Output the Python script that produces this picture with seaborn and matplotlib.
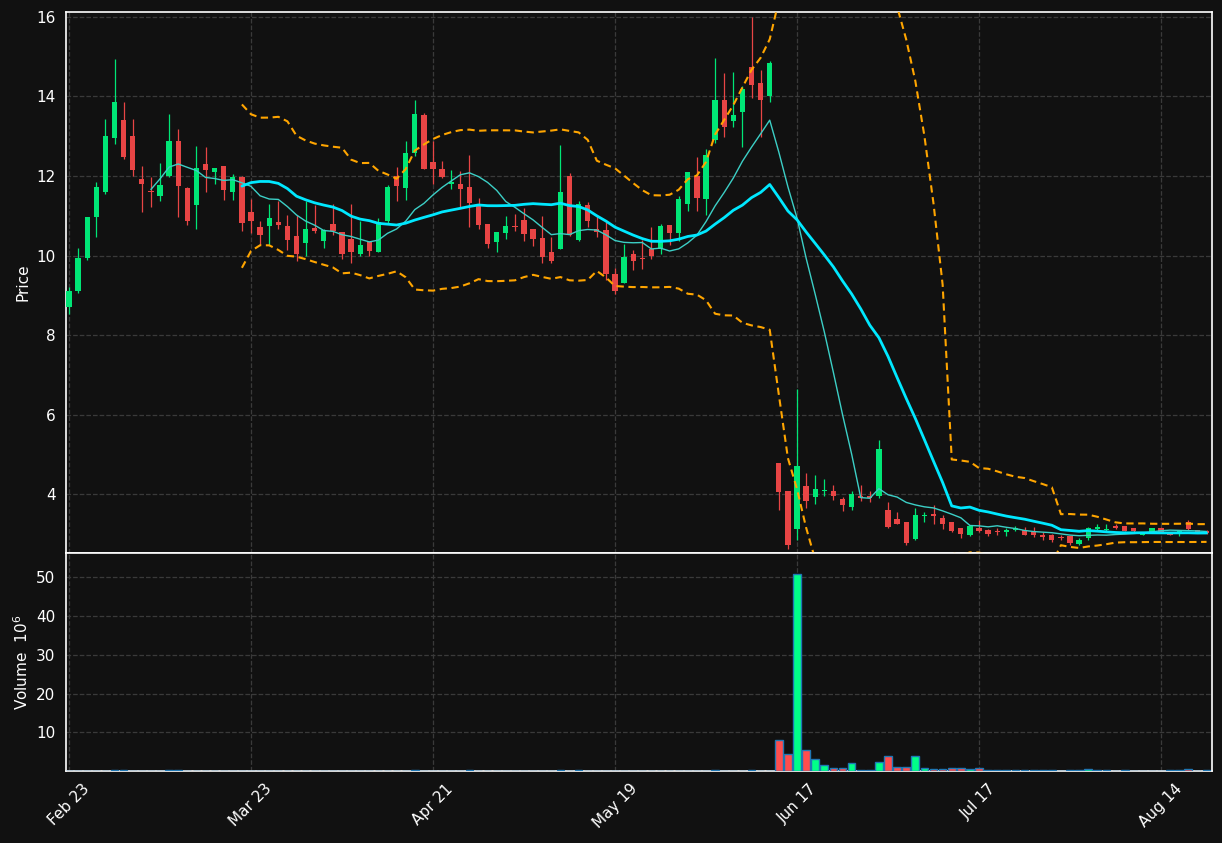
import numpy as np
import pandas as pd
import matplotlib
matplotlib.use("Agg")
import matplotlib.pyplot as plt
import seaborn as sns

# ---------------- data ----------------
opens = [8.72, 9.12, 9.93, 10.98, 11.59, 12.95, 13.40, 13.00, 11.93, 11.63,
         11.51, 11.99, 12.89, 11.70, 11.28, 12.31, 12.11, 12.24, 11.59, 11.98,
         11.10, 10.72, 10.75, 10.84, 10.74, 10.49, 10.31, 10.69, 10.36, 10.79,
         10.59, 10.41, 10.03, 10.35, 10.08, 10.87, 11.99, 11.71, 12.57, 13.53,
         12.36, 12.18, 11.79, 11.81, 11.73, 11.27, 10.79, 10.35, 10.57, 10.75,
         10.89, 10.67, 10.44, 10.08, 10.17, 12.01, 10.39, 11.27, 10.67, 10.64,
         9.55, 9.31, 10.04, 9.95, 10.16, 10.17, 10.76, 10.57, 11.30, 12.00,
         11.42, 12.91, 13.92, 13.37, 13.60, 14.75, 14.34, 14.00, 4.79, 4.08,
         3.13, 4.21, 3.94, 4.08, 4.08, 3.88, 3.69, 3.96, 3.96, 3.97,
         3.61, 3.38, 3.31, 2.89, 3.47, 3.51, 3.41, 3.31, 3.15, 2.98,
         3.16, 3.12, 3.08, 3.05, 3.10, 3.10, 3.06, 2.98, 2.99, 2.92,
         2.95, 2.75, 2.90, 3.13, 3.10, 3.21, 3.20, 3.15, 2.99, 3.07,
         3.15, 3.06, 3.00, 3.32, 3.11, 3.08]
highs = [9.22, 10.20, 10.98, 11.85, 13.42, 14.94, 13.85, 13.42, 12.25, 11.97,
         12.33, 13.57, 13.19, 11.72, 12.76, 12.73, 12.21, 12.26, 12.05, 12.00,
         11.41, 10.86, 11.29, 11.38, 11.01, 11.01, 11.38, 11.27, 10.66, 11.29,
         10.60, 11.29, 10.86, 10.36, 10.94, 11.77, 12.23, 12.89, 13.90, 13.59,
         12.89, 12.38, 12.16, 12.13, 12.53, 11.44, 10.80, 10.60, 11.00, 11.04,
         11.19, 10.68, 11.00, 10.46, 12.78, 12.08, 11.38, 11.34, 10.99, 10.85,
         9.70, 10.28, 10.15, 10.40, 10.71, 10.79, 10.77, 11.50, 12.10, 12.47,
         12.67, 14.97, 14.59, 14.61, 14.25, 16.00, 14.66, 14.89, 4.80, 4.10,
         6.64, 4.54, 4.48, 4.38, 4.23, 3.93, 4.08, 4.23, 4.08, 5.38,
         3.80, 3.57, 3.32, 3.65, 3.56, 3.74, 3.48, 3.32, 3.16, 3.20,
         3.36, 3.13, 3.15, 3.17, 3.20, 3.19, 3.19, 3.06, 3.00, 2.98,
         2.96, 2.90, 3.18, 3.25, 3.27, 3.25, 3.21, 3.16, 3.05, 3.17,
         3.18, 3.07, 3.10, 3.35, 3.12, 3.10]
lows = [8.53, 9.05, 9.88, 10.47, 11.55, 12.80, 12.43, 11.99, 11.10, 11.21,
        11.36, 11.97, 10.98, 10.78, 10.68, 11.60, 11.80, 11.39, 11.40, 10.63,
        10.57, 10.26, 10.26, 10.66, 10.15, 9.87, 9.98, 10.58, 10.20, 10.52,
        9.92, 9.81, 9.98, 9.98, 10.08, 10.81, 11.38, 11.39, 12.51, 12.17,
        11.79, 11.94, 11.67, 11.23, 10.73, 10.67, 10.20, 10.10, 10.43, 10.62,
        10.37, 10.25, 9.81, 9.81, 10.17, 10.50, 10.36, 10.72, 10.46, 9.38,
        9.04, 9.31, 9.65, 9.66, 9.92, 10.05, 10.27, 10.37, 11.13, 11.13,
        11.03, 12.82, 12.99, 13.24, 12.74, 13.97, 12.97, 13.86, 3.60, 2.64,
        2.85, 3.65, 3.75, 3.95, 3.87, 3.58, 3.62, 3.84, 3.80, 3.90,
        3.16, 3.25, 2.74, 2.86, 3.30, 3.25, 3.13, 3.06, 2.90, 2.95,
        3.05, 2.96, 2.98, 2.95, 3.09, 2.98, 2.94, 2.85, 2.80, 2.85,
        2.74, 2.74, 2.85, 3.08, 3.06, 3.13, 3.08, 3.05, 2.98, 3.05,
        3.05, 2.98, 2.95, 3.10, 3.03, 3.00]
closes = [9.12, 9.93, 10.97, 11.73, 13.00, 13.86, 12.47, 12.14, 11.79, 11.61,
          11.78, 12.89, 11.76, 10.88, 12.19, 12.14, 12.19, 11.66, 11.98, 10.83,
          10.88, 10.52, 10.95, 10.78, 10.39, 10.03, 10.66, 10.62, 10.65, 10.62,
          10.03, 10.08, 10.26, 10.11, 10.84, 11.73, 11.76, 12.59, 13.55, 12.17,
          12.17, 11.97, 11.86, 11.67, 11.33, 10.78, 10.30, 10.59, 10.74, 10.73,
          10.55, 10.42, 9.97, 9.86, 11.60, 10.52, 11.30, 10.88, 10.59, 9.53,
          9.12, 9.96, 9.87, 9.92, 9.98, 10.74, 10.57, 11.42, 12.10, 11.45,
          12.54, 13.92, 13.24, 13.54, 14.19, 14.28, 13.92, 14.85, 4.07, 2.73,
          4.71, 3.84, 4.13, 4.11, 3.97, 3.74, 4.00, 3.92, 3.90, 5.14,
          3.18, 3.26, 2.79, 3.48, 3.49, 3.46, 3.26, 3.09, 3.00, 3.20,
          3.09, 3.01, 3.06, 3.10, 3.17, 2.99, 2.98, 2.94, 2.86, 2.90,
          2.79, 2.85, 3.15, 3.19, 3.13, 3.15, 3.09, 3.08, 3.04, 3.15,
          3.07, 2.99, 3.09, 3.13, 3.05, 3.02]
volumes = [0, 0, 0, 0, 0, 0.3, 0.3, 0, 0, 0,
           0, 0.3, 0.3, 0, 0, 0, 0, 0, 0, 0,
           0, 0, 0, 0, 0, 0, 0, 0, 0, 0,
           0, 0, 0, 0, 0, 0, 0, 0, 0.3, 0,
           0, 0, 0, 0, 0.3, 0, 0, 0, 0, 0,
           0, 0, 0, 0, 0.3, 0, 0.3, 0, 0, 0,
           0, 0, 0, 0, 0, 0, 0, 0, 0, 0,
           0, 0.3, 0, 0, 0, 0.3, 0, 0, 8.1, 4.5,
           51.0, 5.3, 3.0, 1.45, 0.65, 0.65, 2.0, 0.3, 0.3, 2.2,
           4.0, 1.05, 1.05, 4.0, 0.9, 0.45, 0.45, 0.65, 0.65, 0.45,
           0.65, 0.3, 0.3, 0.3, 0.3, 0.3, 0.3, 0.3, 0.3, 0,
           0.3, 0.3, 0.45, 0.3, 0.3, 0, 0.3, 0, 0, 0,
           0, 0.3, 0.3, 0.45, 0, 0.3]   # millions
tick_labels = ["Feb 23", "Mar 23", "Apr 21", "May 19", "Jun 17", "Jul 17", "Aug 14"]
tick_step = 20

# ---------------- style ----------------
BG = "#111111"
UP, DOWN = "#00e676", "#e84545"
VUP, VDOWN = "#00ff88", "#ff4d4d"

sns.set_theme(style="darkgrid")
plt.rcParams.update({
    "font.family": ["DejaVu Sans"],
    "figure.facecolor": BG,
    "axes.facecolor": BG,
    "axes.edgecolor": "white",
    "axes.labelcolor": "white",
    "xtick.color": "white",
    "ytick.color": "white",
    "text.color": "white",
    "font.size": 10,
    "axes.grid": True,
    "grid.color": "#3a3a3a",
    "grid.linestyle": "--",
    "grid.linewidth": 0.9,
})

df = pd.DataFrame({"open": opens, "high": highs, "low": lows,
                   "close": closes, "volume": volumes})
df["idx"] = np.arange(len(df))
df["ma10"] = df["close"].rolling(10).mean()
df["ma20"] = df["close"].rolling(20).mean()
sd = df["close"].rolling(20).std(ddof=0)
df["bb_up"] = df["ma20"] + 2 * sd
df["bb_lo"] = df["ma20"] - 2 * sd
up = df["close"] >= df["open"]

W, H = 1222, 843
fig = plt.figure(figsize=(W / 100, H / 100), dpi=100, facecolor=BG)
ax = fig.add_axes([66 / W, 1 - 553 / H, 1146 / W, 541 / H])
axv = fig.add_axes([66 / W, 1 - 771 / H, 1146 / W, 218 / H], sharex=ax)

# candles
ccol = np.where(up, UP, DOWN)
ax.vlines(df["idx"], df["low"], df["high"], colors=ccol, linewidth=0.9, zorder=3)
body_bot = np.minimum(df["open"], df["close"])
body_h = np.maximum((df["close"] - df["open"]).abs(), 0.02)
ax.bar(df["idx"], body_h, bottom=body_bot, width=0.58, color=ccol,
       linewidth=0, zorder=4)

# moving averages & bollinger bands
sns.lineplot(data=df.dropna(subset=["ma10"]), x="idx", y="ma10", ax=ax,
             color="#3ccfc6", linewidth=1.0, zorder=5)
sns.lineplot(data=df.dropna(subset=["ma20"]), x="idx", y="ma20", ax=ax,
             color="#00e8ff", linewidth=2.0, zorder=5)
for col in ["bb_up", "bb_lo"]:
    sns.lineplot(data=df.dropna(subset=[col]), x="idx", y=col, ax=ax,
                 color="#ffa500", linewidth=1.5, linestyle=(0, (3.5, 2.2)), zorder=5)

ax.set_ylim(2.53, 16.12)
ax.set_xlim(-0.33, 125.6)
ax.set_yticks([4, 6, 8, 10, 12, 14, 16])
ax.set_ylabel("Price", fontsize=11)
ax.set_xlabel("")
ax.tick_params(axis="x", labelbottom=False, length=0)
ax.tick_params(axis="y", length=4, width=1, labelsize=11)

# volume
vcol = np.where(up, VUP, VDOWN)
axv.bar(df["idx"], df["volume"], width=0.85, color=vcol,
        edgecolor="#1f77b4", linewidth=1.0, zorder=3)
axv.set_ylim(0, 56.3)
axv.set_yticks([10, 20, 30, 40, 50])
axv.set_ylabel("Volume  $10^{6}$", fontsize=11)
axv.tick_params(axis="y", length=4, width=1, labelsize=11)
ticks = list(range(0, len(df), tick_step))
axv.set_xticks(ticks)
axv.set_xticklabels(tick_labels[:len(ticks)], rotation=45, ha="center", fontsize=11)
axv.tick_params(axis="x", length=4, width=1)
axv.set_xlabel("")

for a in (ax, axv):
    for s in a.spines.values():
        s.set_visible(True)
        s.set_color("white")
        s.set_linewidth(1.2)
    a.grid(True, color="#3a3a3a", linestyle="--", linewidth=0.9)
    a.set_axisbelow(True)

fig.savefig("out.png", dpi=100, facecolor=BG)
